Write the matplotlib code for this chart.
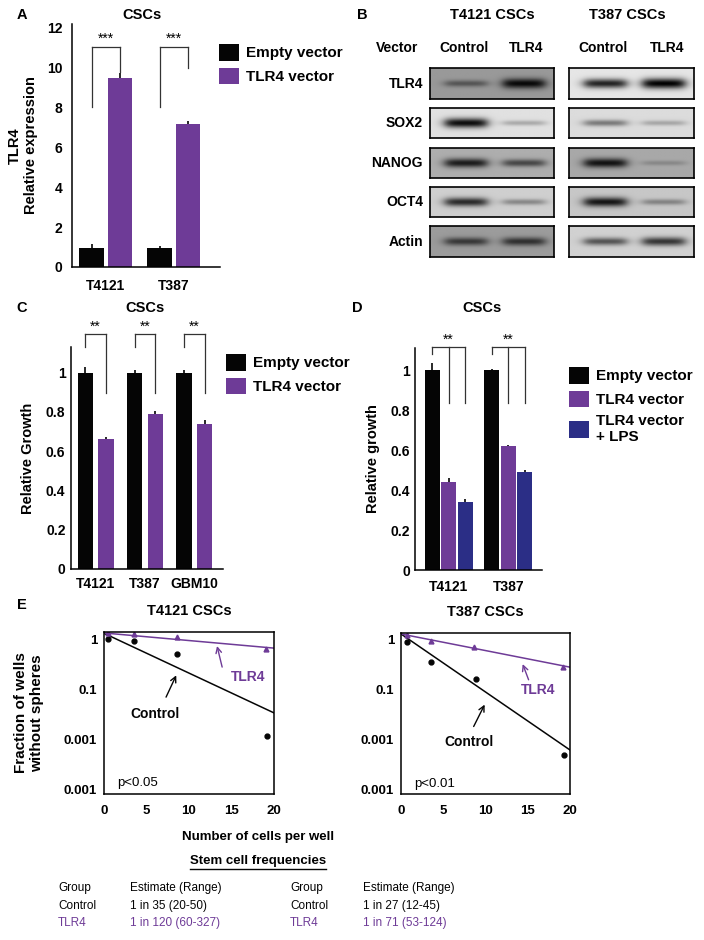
import matplotlib
matplotlib.use('Agg')
import matplotlib.pyplot as plt
import numpy as np
from matplotlib.lines import Line2D
from matplotlib.ticker import NullLocator

plt.rcParams['font.family'] = ['Liberation Sans', 'DejaVu Sans']

PURPLE = '#6e3b97'
NAVY = '#2b2e86'
BLACK = '#050505'
W, H = 704, 940

# ---- panel A: TLR4 expression
a_lines = ['T4121', 'T387']
a_empty = [0.95, 0.95]
a_empty_err = [0.2, 0.12]
a_tlr4 = [9.5, 7.2]
a_tlr4_err = [0.25, 0.15]

# ---- panel B: western blots (band darkness, 0 = none, 1 = black)
blot_proteins = ['TLR4', 'SOX2', 'NANOG', 'OCT4', 'Actin']
blot_lanes = ['Control', 'TLR4']
t4121_background = [0.60, 0.88, 0.68, 0.81, 0.61]
t4121_bands = [[0.45, 0.95], [0.95, 0.25], [0.85, 0.6], [0.8, 0.35], [0.65, 0.7]]
t387_background = [0.90, 0.86, 0.66, 0.78, 0.82]
t387_bands = [[0.85, 1.0], [0.45, 0.25], [0.9, 0.2], [0.9, 0.35], [0.6, 0.75]]

# ---- panel C: relative growth
c_lines = ['T4121', 'T387', 'GBM10']
c_empty = [1.0, 1.0, 1.0]
c_empty_err = [0.03, 0.012, 0.015]
c_tlr4 = [0.66, 0.79, 0.74]
c_tlr4_err = [0.01, 0.015, 0.02]

# ---- panel D: relative growth with LPS
d_lines = ['T4121', 'T387']
d_empty = [1.0, 1.0]
d_empty_err = [0.035, 0.005]
d_tlr4 = [0.44, 0.62]
d_tlr4_err = [0.02, 0.005]
d_lps = [0.34, 0.49]
d_lps_err = [0.015, 0.01]

# ---- panel E: limiting dilution
e_fit_x = [0, 20]
left_ctrl_x = [0.5, 3.5, 8.6, 19.2]
left_ctrl_y = [1.0, 0.9, 0.5, 0.012]
left_tlr4_x = [0.5, 3.5, 8.6, 19.0]
left_tlr4_y = [1.3, 1.25, 1.08, 0.63]
left_ctrl_fit = [1.3, 0.034]
left_tlr4_fit = [1.32, 0.66]
right_ctrl_x = [0.7, 3.5, 8.9, 19.3]
right_ctrl_y = [0.93, 0.37, 0.168, 0.0049]
right_tlr4_x = [0.7, 3.5, 8.6, 19.2]
right_tlr4_y = [1.28, 0.97, 0.71, 0.29]
right_ctrl_fit = [1.32, 0.0063]
right_tlr4_fit = [1.32, 0.286]

freq_groups = ['Control', 'TLR4']
freq_t4121 = ['1 in 35 (20-50)', '1 in 120 (60-327)']
freq_t387 = ['1 in 27 (12-45)', '1 in 71 (53-124)']

fig = plt.figure(figsize=(W / 100, H / 100), dpi=100)


def px_axes(x0, y0, x1, y1):
    return fig.add_axes([x0 / W, 1 - y1 / H, (x1 - x0) / W, (y1 - y0) / H])


def ftext(x, y, s, **kw):
    kw.setdefault('ha', 'center')
    kw.setdefault('va', 'center')
    return fig.text(x / W, 1 - y / H, s, **kw)


def style_bar_axes(ax, ypad, xpad):
    for side in ['top', 'right']:
        ax.spines[side].set_visible(False)
    for side in ['left', 'bottom']:
        ax.spines[side].set_linewidth(1.1)
    ax.tick_params(length=0, labelsize=10)
    ax.tick_params(axis='y', pad=ypad)
    ax.tick_params(axis='x', pad=xpad)
    for lab in ax.get_xticklabels() + ax.get_yticklabels():
        lab.set_fontweight('bold')


def bracket(ax, xs, bottoms, top, star_x, star_y, stars):
    for x, b in zip(xs, bottoms):
        ax.plot([x, x], [b, top], color='#333333', lw=0.9, clip_on=False)
    ax.plot([xs[0], xs[-1]], [top, top], color='#333333', lw=0.9, clip_on=False)
    ax.text(star_x, star_y, stars, ha='center', va='center', fontsize=10)


def legend_at(ax, x, y, spacing):
    ax.legend(loc='upper left', bbox_to_anchor=(x / W, 1 - y / H), bbox_transform=fig.transFigure,
              frameon=False, borderpad=0, borderaxespad=0, handlelength=1.3, handleheight=1.3,
              handletextpad=0.45, labelspacing=spacing, prop={'weight': 'bold', 'size': 11})


# ================= A
axA = px_axes(72, 24, 220, 267)
xa = np.arange(len(a_lines))
axA.bar(xa - 0.21, a_empty, 0.36, color=BLACK, label='Empty vector',
        yerr=[np.zeros(2), a_empty_err], error_kw=dict(ecolor=BLACK, elinewidth=1.2))
axA.bar(xa + 0.21, a_tlr4, 0.36, color=PURPLE, label='TLR4 vector',
        yerr=[np.zeros(2), a_tlr4_err], error_kw=dict(ecolor=BLACK, elinewidth=1.2))
axA.set_xlim(-0.5, 1.68)
axA.set_ylim(0, 12.2)
axA.set_yticks(range(0, 13, 2))
axA.set_xticks(xa, a_lines)
style_bar_axes(axA, 7, 9)
axA.set_ylabel('TLR4\nRelative expression', fontsize=10.5, fontweight='bold', labelpad=6)
bracket(axA, [-0.21, 0.21], [8.05, 9.8], 11.03, 0, 11.45, '***')
bracket(axA, [0.79, 1.21], [8.05, 10.0], 11.03, 1, 11.45, '***')
legend_at(axA, 219, 44, 0.45)
ftext(22, 15, 'A', fontsize=10.5, fontweight='bold')
ftext(142, 15, 'CSCs', fontsize=10.5, fontweight='bold')

# ================= B
def blot_image(bg, bands, centers=(0.29, 0.76), width=0.34, nx=160, ny=40):
    x = np.linspace(0, 1, nx)
    y = np.linspace(-1, 1, ny)
    img = np.full((ny, nx), bg)
    for c, s in zip(centers, bands):
        xprof = 1 / (1 + np.exp(-(x - (c - width / 2)) / 0.025)) / (1 + np.exp((x - (c + width / 2)) / 0.025))
        thick = 0.12 + 0.22 * s
        yprof = np.exp(-(y / thick) ** 2)
        img = img - s * bg * np.outer(yprof, xprof)
    return np.clip(img, 0, 1)


row_y = [(68, 99), (108, 138), (148, 178), (187, 217), (226, 257)]
for (x0, x1), bgs, bands in [((430, 554), t4121_background, t4121_bands),
                              ((569, 694), t387_background, t387_bands)]:
    for (y0, y1), bg, bd in zip(row_y, bgs, bands):
        axb = px_axes(x0, y0, x1, y1)
        axb.imshow(blot_image(bg, bd), cmap='gray', vmin=0, vmax=1, aspect='auto',
                   interpolation='bilinear')
        axb.set_xticks([])
        axb.set_yticks([])
        for sp in axb.spines.values():
            sp.set_linewidth(1.2)

for (y0, y1), name in zip(row_y, blot_proteins):
    ftext(423, (y0 + y1) / 2, name, ha='right', fontsize=10, fontweight='bold')
ftext(362, 15, 'B', fontsize=10.5, fontweight='bold')
ftext(492, 15, 'T4121 CSCs', fontsize=10.5, fontweight='bold')
ftext(627, 15, 'T387 CSCs', fontsize=10.5, fontweight='bold')
ftext(397, 48, 'Vector', fontsize=10, fontweight='bold')
for xc, lane in zip([464, 526, 603, 667], blot_lanes * 2):
    ftext(xc, 48, lane, fontsize=10, fontweight='bold')

# ================= C
axC = px_axes(71, 347, 223, 569)
xc = np.arange(len(c_lines))
axC.bar(xc - 0.21, c_empty, 0.31, color=BLACK, label='Empty vector',
        yerr=[np.zeros(3), c_empty_err], error_kw=dict(ecolor=BLACK, elinewidth=1.2))
axC.bar(xc + 0.21, c_tlr4, 0.31, color=PURPLE, label='TLR4 vector',
        yerr=[np.zeros(3), c_tlr4_err], error_kw=dict(ecolor=BLACK, elinewidth=1.2))
axC.set_xlim(-0.5, 2.58)
axC.set_ylim(0, 1.13)
axC.set_yticks([0, 0.2, 0.4, 0.6, 0.8, 1], ['0', '0.2', '0.4', '0.6', '0.8', '1'])
axC.set_xticks(xc, c_lines)
style_bar_axes(axC, 4, 6)
axC.set_ylabel('Relative Growth', fontsize=10.5, fontweight='bold', labelpad=8)
for g in xc:
    bracket(axC, [g - 0.21, g + 0.21], [1.13, 0.895], 1.195, g, 1.235, '**')
legend_at(axC, 226, 354, 0.45)
ftext(22, 308, 'C', fontsize=10.5, fontweight='bold')
ftext(145, 308, 'CSCs', fontsize=10.5, fontweight='bold')

# ================= D
axD = px_axes(415, 348, 542, 570)
xd = np.arange(len(d_lines))
axD.bar(xd - 0.275, d_empty, 0.25, color=BLACK, label='Empty vector',
        yerr=[np.zeros(2), d_empty_err], error_kw=dict(ecolor=BLACK, elinewidth=1.2))
axD.bar(xd, d_tlr4, 0.25, color=PURPLE, label='TLR4 vector',
        yerr=[np.zeros(2), d_tlr4_err], error_kw=dict(ecolor=BLACK, elinewidth=1.2))
axD.bar(xd + 0.275, d_lps, 0.25, color=NAVY, label='TLR4 vector\n+ LPS',
        yerr=[np.zeros(2), d_lps_err], error_kw=dict(ecolor=BLACK, elinewidth=1.2))
axD.set_xlim(-0.56, 1.56)
axD.set_ylim(0, 1.11)
axD.set_yticks([0, 0.2, 0.4, 0.6, 0.8, 1], ['0', '0.2', '0.4', '0.6', '0.8', '1'])
axD.set_xticks(xd, d_lines)
style_bar_axes(axD, 3.5, 7)
axD.set_ylabel('Relative growth', fontsize=10.5, fontweight='bold', labelpad=8)
for g in xd:
    bracket(axD, [g - 0.275, g, g + 0.275], [1.08, 0.833, 0.833], 1.113, g, 1.15, '**')
legend_at(axD, 569, 367, 0.45)
ftext(357, 308, 'D', fontsize=10.5, fontweight='bold')
ftext(482, 308, 'CSCs', fontsize=10.5, fontweight='bold')

# ================= E
def ld_panel(ax, cx, cy, tx, ty, cfit, tfit, title, ptxt, ann):
    ax.plot(e_fit_x, cfit, color=BLACK, lw=1.1)
    ax.plot(e_fit_x, tfit, color=PURPLE, lw=1.1)
    ax.plot(cx, cy, 'o', color=BLACK, ms=3.5)
    ax.plot(tx, ty, '^', color=PURPLE, ms=3.5)
    ax.set_yscale('log')
    ax.set_xlim(0, 20)
    ax.set_ylim(0.00083, 1.38)
    ax.set_yticks([1, 0.1, 0.01, 0.001], ['1', '0.1', '0.001', '0.001'])
    ax.yaxis.set_minor_locator(NullLocator())
    ax.set_xticks([0, 5, 10, 15, 20])
    ax.tick_params(length=0, labelsize=9.5)
    ax.tick_params(axis='x', pad=8)
    ax.tick_params(axis='y', pad=5)
    for lab in ax.get_xticklabels() + ax.get_yticklabels():
        lab.set_fontweight('bold')
    for sp in ax.spines.values():
        sp.set_linewidth(1.1)
    ax.set_title(title, fontsize=10.5, fontweight='bold', pad=12)
    ax.text(0.075, 0.065, ptxt, transform=ax.transAxes, fontsize=9.5, va='center')
    for text, color, pos, tail, tip in ann:
        ax.text(*pos, text, color=color, fontsize=10, fontweight='bold', ha='center', va='center')
        ax.annotate('', xy=tip, xytext=tail,
                    arrowprops=dict(arrowstyle='->', color=color, lw=1.0, shrinkA=0, shrinkB=0))


axE1 = px_axes(104, 632, 274, 794)
ld_panel(axE1, left_ctrl_x, left_ctrl_y, left_tlr4_x, left_tlr4_y, left_ctrl_fit, left_tlr4_fit,
         'T4121 CSCs', 'p<0.05',
         [('TLR4', PURPLE, (16.9, 0.176), (13.9, 0.277), (13.3, 0.726)),
          ('Control', BLACK, (6.0, 0.032), (7.3, 0.070), (8.5, 0.19))])
axE1.set_ylabel('Fraction of wells\nwithout spheres', fontsize=11, fontweight='bold', labelpad=14)

axE2 = px_axes(401, 633, 570, 794)
ld_panel(axE2, right_ctrl_x, right_ctrl_y, right_tlr4_x, right_tlr4_y, right_ctrl_fit, right_tlr4_fit,
         'T387 CSCs', 'p<0.01',
         [('TLR4', PURPLE, (16.2, 0.10), (15.1, 0.16), (14.4, 0.33)),
          ('Control', BLACK, (8.05, 0.0089), (8.6, 0.0186), (9.9, 0.051))])
ftext(22, 605, 'E', fontsize=10.5, fontweight='bold')

ftext(258, 837, 'Number of cells per well', fontsize=9.5, fontweight='bold')
stem = ftext(258, 861, 'Stem cell frequencies', fontsize=9.5, fontweight='bold')

# frequency table
for x_grp, x_est, estimates in [(58, 130, freq_t4121), (290, 363, freq_t387)]:
    ftext(x_grp, 888, 'Group', ha='left', fontsize=8.5)
    ftext(x_est, 888, 'Estimate (Range)', ha='left', fontsize=8.5)
    for i, (grp, est) in enumerate(zip(freq_groups, estimates)):
        col = BLACK if grp == 'Control' else PURPLE
        ftext(x_grp, 906 + 17 * i, grp, ha='left', fontsize=8.5, color=col)
        ftext(x_est, 906 + 17 * i, est, ha='left', fontsize=8.5, color=col)

fig.canvas.draw()
bb = stem.get_window_extent().transformed(fig.transFigure.inverted())
fig.add_artist(Line2D([bb.x0, bb.x1], [bb.y0 - 0.002, bb.y0 - 0.002], color=BLACK, lw=1.0,
                      transform=fig.transFigure))

fig.savefig('out.png', dpi=100)
